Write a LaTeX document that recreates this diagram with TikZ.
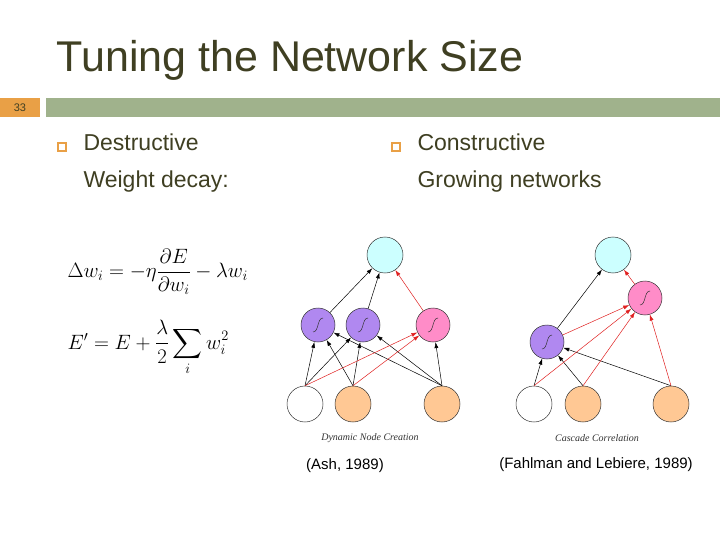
\documentclass[tikz,border=0pt]{standalone}
\usepackage{fontspec}
\setmainfont{Liberation Sans}
\usepackage{amsmath}
\usetikzlibrary{arrows.meta}
\definecolor{titlec}{HTML}{3F3F22}
\definecolor{barg}{HTML}{A0B28C}
\definecolor{orng}{HTML}{E9A046}
\definecolor{cyanf}{HTML}{CCFFFF}
\definecolor{purf}{HTML}{B088F0}
\definecolor{pinkf}{HTML}{FF8CC8}
\definecolor{orf}{HTML}{FFC894}
\definecolor{redc}{HTML}{E02020}
\begin{document}
\begin{tikzpicture}[x=1pt,y=-1pt,
  unit/.style={circle,draw=black!80,line width=0.5pt,minimum size=36pt,inner sep=0pt},
  hid/.style={unit,minimum size=34pt,path picture={\draw[line width=0.5pt] ([xshift=-5pt,yshift=-7pt]path picture bounding box.center) .. controls +(6pt,0) and +(-6pt,0) .. ([xshift=5pt,yshift=7pt]path picture bounding box.center);}},
  blk/.style={-{Latex[length=6pt,width=4pt]},line width=0.5pt,black},
  rd/.style={-{Latex[length=6pt,width=4pt]},line width=0.5pt,redc},
  body/.style={anchor=base west,text=titlec,font=\fontsize{23}{26}\selectfont},
  bul/.style={draw=orng,line width=1.2pt,minimum size=8pt,inner sep=0pt}]
\useasboundingbox (0,0) rectangle (720,540);
\fill[white] (0,0) rectangle (720,540);
\node[anchor=base west,text=titlec,font=\fontsize{43}{48}\selectfont] (title) at (53,72) {Tuning the Network Size};
\fill[barg] (46,98) rectangle (720,117);
\fill[orng] (0,98) rectangle (40,117);
\node[font=\fontsize{11}{12}\selectfont,text=titlec] (num) at (20,108) {33};
\node[bul] (b1) at (62,147) {};
\node[body] (d1) at (80,151) {Destructive};
\node[body] (d2) at (80,188) {Weight decay:};
\node[bul] (b2) at (396,147) {};
\node[body] (c1) at (414,151) {Constructive};
\node[body] (c2) at (414,188) {Growing networks};
\node[anchor=west,font=\fontsize{20}{24}\selectfont] (f1) at (64,272) {$\Delta w_i=-\eta\dfrac{\partial E}{\partial w_i}-\lambda w_i$};
\node[anchor=west,font=\fontsize{20}{24}\selectfont] (f2) at (64,348) {$E'=E+\dfrac{\lambda}{2}\displaystyle\sum_i w_i^2$};
% left network
\node[unit,fill=cyanf] (lo) at (385,255) {};
\node[hid,fill=purf] (lh1) at (318,325) {};
\node[hid,fill=purf] (lh2) at (363,325) {};
\node[hid,fill=pinkf] (lh3) at (433,325) {};
\node[unit,fill=white] (li1) at (305,404) {};
\node[unit,fill=orf] (li2) at (353,404) {};
\node[unit,fill=orf] (li3) at (442,404) {};
\draw[blk] (li1.north) -- (lh1); \draw[blk] (li1.north) -- (lh2);
\draw[blk] (li2.north) -- (lh1); \draw[blk] (li2.north) -- (lh2);
\draw[blk] (li3.north) -- (lh1); \draw[blk] (li3.north) -- (lh2);
\draw[blk] (li3.north) -- (lh3);
\draw[rd] (li1.north) -- (lh3); \draw[rd] (li2.north) -- (lh3);
\draw[blk] (lh1) -- (lo); \draw[blk] (lh2) -- (lo); \draw[rd] (lh3) -- (lo);
\node[font=\itshape\fontsize{10}{11}\selectfont,text=black!80] (lc) at (370,438) {\fontspec{Liberation Serif}Dynamic Node Creation};
% right network
\node[unit,fill=cyanf] (ro) at (613,255) {};
\node[hid,fill=pinkf] (rh2) at (645,298) {};
\node[hid,fill=purf] (rh1) at (547,342) {};
\node[unit,fill=white] (ri1) at (534,404) {};
\node[unit,fill=orf] (ri2) at (583,404) {};
\node[unit,fill=orf] (ri3) at (671,404) {};
\draw[blk] (ri1.north) -- (rh1); \draw[blk] (ri2.north) -- (rh1); \draw[blk] (ri3.north) -- (rh1);
\draw[rd] (ri1.north) -- (rh2); \draw[rd] (ri2.north) -- (rh2); \draw[rd] (ri3.north) -- (rh2);
\draw[rd] (rh1) -- (rh2);
\draw[blk] (rh1) -- (ro); \draw[rd] (rh2) -- (ro);
\node[font=\itshape\fontsize{10}{11}\selectfont,text=black!80] (rc) at (597,438) {\fontspec{Liberation Serif}Cascade Correlation};
\node[font=\fontsize{15}{18}\selectfont] (a1) at (345,466) {(Ash, 1989)};
\node[font=\fontsize{15}{18}\selectfont] (a2) at (596,465) {(Fahlman and Lebiere, 1989)};
\end{tikzpicture}
\end{document}
